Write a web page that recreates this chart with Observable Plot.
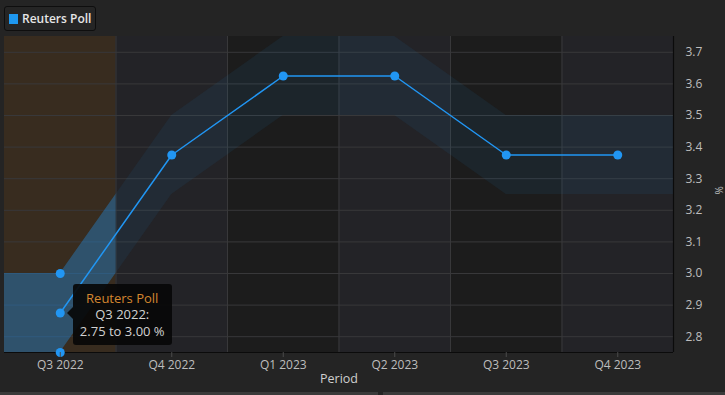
<!DOCTYPE html>
<html>
<head>
<meta charset="utf-8">
<script src="https://cdn.jsdelivr.net/npm/d3@7"></script>
<script src="https://cdn.jsdelivr.net/npm/@observablehq/plot@0.6"></script>
<style>
  html, body { margin: 0; padding: 0; background: #242424; }
  #wrap { position: relative; width: 725px; height: 395px; overflow: hidden; background: #242424; font-family: "Open Sans", sans-serif; }
  #legend { position: absolute; left: 4px; top: 6px; height: 23px; padding: 0 4px 0 4px; border: 1px solid #0e0e0e; border-radius: 3px; background: #252525; color: #e6e6e6; font-size: 12px; font-weight: 600; line-height: 23px; white-space: nowrap; display: flex; align-items: center; }
  #legend .sw { display: inline-block; width: 9px; height: 10px; background: #1e98f0; margin-right: 4px; }
  #tip { position: absolute; background: rgba(8,8,8,0.92); border-radius: 3px; padding: 6px 0; text-align: center; font-size: 13px; line-height: 16.5px; color: #d2d2d2; white-space: nowrap; }
  #tip .t { color: #d4862f; }
  #tip .arrow { position: absolute; left: -6px; width: 0; height: 0; border-top: 6px solid transparent; border-bottom: 6px solid transparent; border-right: 6px solid rgba(8,8,8,0.92); }
  .strip { position: absolute; top: 392px; height: 3px; background: #3a3a3a; }
</style>
</head>
<body>
<div id="wrap"></div>
<script>
// ---- data ----
const categories = ["Q3 2022", "Q4 2022", "Q1 2023", "Q2 2023", "Q3 2023", "Q4 2023"];
const pollMean = [2.875, 3.375, 3.625, 3.625, 3.375, 3.375];
const pollLow  = [2.75, 3.25, 3.50, 3.50, 3.25, 3.25];
const pollHigh = [3.00, 3.50, 3.75, 3.75, 3.50, 3.50];
const yTicks = [2.8, 2.9, 3.0, 3.1, 3.2, 3.3, 3.4, 3.5, 3.6, 3.7];
const yDomain = [2.75, 3.75];
const seriesName = "Reuters Poll";
const xTitle = "Period";
const yTitle = "%";
const currentIndex = 0; // highlighted (hovered) quarter

// ---- derived tables ----
const n = categories.length;
const xDomain = [-0.5, n - 0.5];
const rows = categories.map((c, i) => ({ i, cat: c, mean: pollMean[i], lo: pollLow[i], hi: pollHigh[i] }));
const band = [
  { i: xDomain[0], lo: pollLow[0], hi: pollHigh[0] },
  ...rows,
  { i: xDomain[1], lo: pollLow[n - 1], hi: pollHigh[n - 1] }
];
const cols = rows.map(d => ({ i: d.i }));
const bounds = rows.slice(1).map(d => d.i - 0.5);

const W = 725, H = 395;
const M = { top: 36, right: 52, bottom: 43, left: 4 };
const blue = "#2196f3";

const colFill = d => d.i === currentIndex ? "#382c1f" : (d.i % 2 === 0 ? "#1c1c1c" : "#232327");

const chart = Plot.plot({
  width: W,
  height: H,
  marginTop: M.top,
  marginRight: M.right,
  marginBottom: M.bottom,
  marginLeft: M.left,
  style: { background: "transparent", color: "#bdbdbd", fontFamily: "Open Sans, sans-serif", fontSize: "12px", overflow: "visible" },
  x: { type: "linear", domain: xDomain, axis: null },
  y: { domain: yDomain, axis: null },
  marks: [
    Plot.rect(cols, { x1: d => d.i - 0.5, x2: d => d.i + 0.5, fill: colFill }),
    Plot.ruleY(yTicks, { stroke: "#38383a", strokeWidth: 1 }),
    Plot.ruleX(bounds, { stroke: "#38383a", strokeWidth: 1 }),
    Plot.areaY(band, { x: "i", y1: "lo", y2: "hi", fill: blue, fillOpacity: 0.07 }),
    Plot.areaY(band, { x: "i", y1: "lo", y2: "hi", fill: blue, fillOpacity: 0.32 }),
    Plot.ruleY([yDomain[0]], { stroke: "#0b0b0b", strokeWidth: 1.2 }),
    Plot.ruleX([xDomain[1]], { stroke: "#0b0b0b", strokeWidth: 1.2 }),
    Plot.line(rows, { x: "i", y: "mean", stroke: blue, strokeWidth: 1.5 }),
    Plot.dot(rows, { x: "i", y: "mean", r: 4.5, fill: blue }),
    Plot.dot([rows[currentIndex]], { x: "i", y: "lo", r: 4.5, fill: blue }),
    Plot.dot([rows[currentIndex]], { x: "i", y: "hi", r: 4.5, fill: blue }),
    Plot.axisX(rows.map(d => d.i), { anchor: "bottom", tickFormat: i => categories[i], tickSize: 5, tickPadding: 3, stroke: "#4a4a4a", fill: "#bdbdbd", fontSize: 12, label: null }),
    Plot.axisY(yTicks, { anchor: "right", tickSize: 0, tickPadding: 12, tickFormat: d3.format(".1f"), fill: "#bdbdbd", fontSize: 12, label: null }),
    Plot.text([xTitle], { text: d => d, frameAnchor: "bottom", dy: 30, fill: "#cfcfcf", fontSize: 12.5, fontWeight: 500 }),
    Plot.text([yTitle], { text: d => d, frameAnchor: "right", dx: 45, rotate: 90, fill: "#bdbdbd", fontSize: 10 })
  ]
});

// zone clip for the highlighted quarter's range fill
const xs = d3.scaleLinear().domain(xDomain).range([M.left, W - M.right]);
const ys = d3.scaleLinear().domain(yDomain).range([H - M.bottom, M.top]);
const svg = d3.select(chart.tagName.toLowerCase() === "svg" ? chart : chart.querySelector("svg"));
const areas = svg.selectAll('g[aria-label="area"]').nodes();
if (areas.length >= 2) {
  const defs = svg.insert("defs", ":first-child");
  defs.append("clipPath").attr("id", "zoneclip")
    .append("rect")
    .attr("x", xs(currentIndex - 0.5)).attr("y", M.top)
    .attr("width", xs(currentIndex + 0.5) - xs(currentIndex - 0.5))
    .attr("height", H - M.top - M.bottom);
  d3.select(areas[1]).attr("clip-path", "url(#zoneclip)");
}

const wrap = document.getElementById("wrap");
wrap.appendChild(chart);
chart.style.position = "absolute";
chart.style.left = "0px";
chart.style.top = "0px";

// legend
const lg = document.createElement("div");
lg.id = "legend";
lg.innerHTML = `<span class="sw"></span><span>${seriesName}</span>`;
wrap.appendChild(lg);

// tooltip anchored to the hovered point
const px = xs(currentIndex), py = ys(pollMean[currentIndex]);
const tip = document.createElement("div");
tip.id = "tip";
tip.style.left = (px + 13) + "px";
tip.style.top = (py - 29) + "px";
tip.style.width = "99px";
tip.innerHTML = `<div class="arrow" style="top:${29 - 6}px"></div><div class="t">${seriesName}</div><div>${categories[currentIndex]}:</div><div>${pollLow[currentIndex].toFixed(2)} to ${pollHigh[currentIndex].toFixed(2)} %</div>`;
wrap.appendChild(tip);

// bottom strip
const s1 = document.createElement("div"); s1.className = "strip"; s1.style.left = "0px"; s1.style.width = "378px"; wrap.appendChild(s1);
const s2 = document.createElement("div"); s2.className = "strip"; s2.style.left = "383px"; s2.style.width = "342px"; wrap.appendChild(s2);
</script>
</body>
</html>
